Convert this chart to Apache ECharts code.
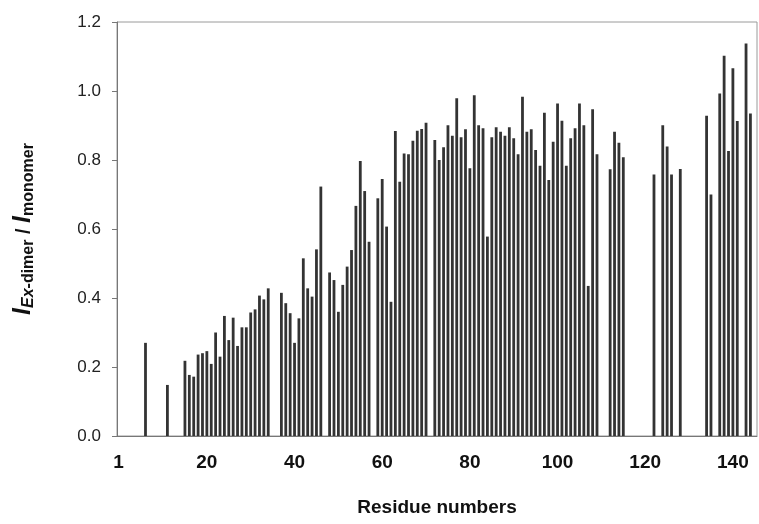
<!DOCTYPE html>
<html>
<head>
<meta charset="utf-8">
<script src="https://cdn.jsdelivr.net/npm/echarts@6/dist/echarts.min.js"></script>
<style>
  html, body { margin: 0; padding: 0; background: #fff; }
  #chart { width: 759px; height: 524px; }
</style>
</head>
<body>
<div id="chart"></div>
<script>
// residue numbers that have a measured ratio
const residues = [6, 11,
  15, 16, 17, 18, 19, 20, 21, 22, 23, 24, 25, 26, 27, 28, 29, 30, 31, 32, 33, 34,
  37, 38, 39, 40, 41, 42, 43, 44, 45, 46,
  48, 49, 50, 51, 52, 53, 54, 55, 56, 57,
  59, 60, 61, 62, 63, 64, 65, 66, 67, 68, 69, 70,
  72, 73, 74, 75, 76, 77, 78, 79, 80, 81, 82, 83, 84, 85, 86, 87, 88, 89, 90,
  91, 92, 93, 94, 95, 96, 97, 98, 99, 100, 101, 102, 103, 104, 105, 106, 107, 108, 109,
  112, 113, 114, 115,
  122, 124, 125, 126, 128,
  134, 135, 137, 138, 139, 140, 141, 143, 144]

// I(Ex-dimer) / I(monomer), same order as residues
const ratios = [0.27, 0.148,
  0.218, 0.177, 0.172, 0.236, 0.24, 0.246, 0.209, 0.30, 0.23, 0.348, 0.278, 0.343, 0.261, 0.315, 0.315, 0.358, 0.367, 0.407, 0.396, 0.428,
  0.415, 0.385, 0.356, 0.27, 0.341, 0.515, 0.428, 0.404, 0.541, 0.723,
  0.474, 0.452, 0.36, 0.438, 0.491, 0.539, 0.667, 0.797, 0.71, 0.563,
  0.689, 0.745, 0.607, 0.389, 0.884, 0.737, 0.819, 0.817, 0.856, 0.885, 0.89, 0.908,
  0.858, 0.80, 0.837, 0.901, 0.87, 0.979, 0.866, 0.889, 0.776, 0.988, 0.901, 0.892, 0.578, 0.866, 0.895, 0.882, 0.87, 0.895, 0.863,
  0.817, 0.983, 0.882, 0.889, 0.829, 0.783, 0.937, 0.742, 0.853, 0.964, 0.914, 0.783, 0.863, 0.892, 0.964, 0.901, 0.435, 0.947, 0.817,
  0.773, 0.882, 0.85, 0.808,
  0.758, 0.901, 0.839, 0.758, 0.774,
  0.928, 0.70, 0.993, 1.102, 0.826, 1.066, 0.913, 1.138, 0.935]

const xTickLabels = [1, 20, 40, 60, 80, 100, 120, 140]
const yTicks = [0, 0.2, 0.4, 0.6, 0.8, 1.0, 1.2]
const lastResidue = 145

// one category per residue, empty where nothing was measured
let cats = []
let vals = []
for (let r = 0; r <= lastResidue; r++) {
  cats.push(String(r))
  vals.push(null)
}
for (let i = 0; i < residues.length; i++) {
  vals[residues[i]] = ratios[i]
}

const chart = echarts.init(document.getElementById('chart'))
chart.setOption({
  animation: false,
  grid: {
    left: 117, right: 2, top: 22, bottom: 88,
    show: true, borderColor: '#9a9a9a', borderWidth: 1
  },
  xAxis: {
    type: 'category',
    data: cats,
    name: 'Residue numbers',
    nameLocation: 'middle',
    nameGap: 62,
    nameTextStyle: { fontFamily: 'Liberation Sans', fontWeight: 'bold', fontSize: 19, color: '#111' },
    axisLine: { lineStyle: { color: '#777' } },
    axisTick: { show: false },
    axisLabel: {
      interval: function (index) { return xTickLabels.indexOf(index) >= 0 },
      margin: 17,
      fontFamily: 'Liberation Sans', fontWeight: 'bold', fontSize: 19, color: '#111',
      formatter: function (v) { return v === '1' ? '{a|1}' : v },
      rich: {
        a: { fontFamily: 'Liberation Sans', fontWeight: 'bold', fontSize: 19, color: '#111', padding: [0, 10, 0, 0] }
      }
    }
  },
  yAxis: {
    type: 'value',
    min: yTicks[0],
    max: yTicks[yTicks.length - 1],
    interval: 0.2,
    name: '{i|I}{si|Ex}{s|-dimer}{n| / }{i|I}{s|monomer}',
    nameLocation: 'middle',
    nameRotate: 90,
    nameGap: 80,
    nameTextStyle: {
      fontFamily: 'Liberation Sans', color: '#111',
      rich: {
        i: { fontSize: 25, fontWeight: 'bold', fontStyle: 'italic', fontFamily: 'Liberation Sans', color: '#111', verticalAlign: 'top', lineHeight: 26 },
        si: { fontSize: 16, fontWeight: 'bold', fontStyle: 'italic', fontFamily: 'Liberation Sans', color: '#111', verticalAlign: 'bottom', lineHeight: 26 },
        s: { fontSize: 16, fontWeight: 'bold', fontFamily: 'Liberation Sans', color: '#111', verticalAlign: 'bottom', lineHeight: 26 },
        n: { fontSize: 20, fontWeight: 'bold', fontFamily: 'Liberation Sans', color: '#111', lineHeight: 26 }
      }
    },
    axisLine: { show: true, lineStyle: { color: '#777' } },
    axisTick: { show: true, length: 5, lineStyle: { color: '#777' } },
    splitLine: { show: false },
    axisLabel: {
      margin: 16,
      fontFamily: 'Liberation Sans', fontSize: 17, color: '#222',
      formatter: function (v) { return v.toFixed(1) }
    }
  },
  series: [{
    type: 'bar',
    data: vals,
    barWidth: 2.8,
    itemStyle: { color: '#333' }
  }]
})
</script>
</body>
</html>
